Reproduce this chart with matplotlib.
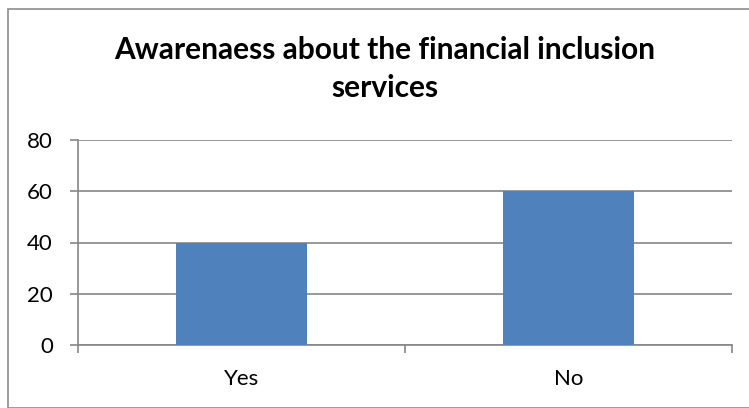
import matplotlib.pyplot as plt
from matplotlib.patches import Rectangle

categories = ["Yes", "No"]
values = [40, 60]
yticks = [0, 20, 40, 60, 80]

plt.rcParams['font.family'] = ['Lato', 'DejaVu Sans']

W, H = 749, 408
fig = plt.figure(figsize=(W / 100, H / 100), dpi=100)

# chart area outline (right and bottom edges fall outside the image)
fig.patches.append(Rectangle((8 / W, 0), 1.0, (H - 9) / H, transform=fig.transFigure,
                             fill=False, edgecolor='#8c8c8c', linewidth=1.2))

ax = fig.add_axes([78 / W, (H - 345) / H, (732 - 78) / W, (345 - 140) / H])

x = range(len(categories))
ax.bar(x, values, width=0.4, color='#4F81BD', zorder=3)

ax.set_xlim(-0.5, len(categories) - 0.5)
ax.set_ylim(0, 80)
ax.set_yticks(yticks)
ax.set_xticks(list(x))
ax.set_xticklabels(categories, fontsize=16)
ax.set_xticks([-0.5, 0.5, 1.5], minor=True)
ax.tick_params(axis='x', which='major', length=0, pad=17)
ax.tick_params(axis='x', which='minor', length=6, width=1.2, color='#868686', direction='out')
ax.tick_params(axis='y', length=6, width=1.2, color='#868686', direction='out', pad=12, labelsize=16)

ax.yaxis.grid(True, color='#868686', linewidth=1.2)
ax.set_axisbelow(True)
for side in ['top', 'right']:
    ax.spines[side].set_visible(False)
for side in ['left', 'bottom']:
    ax.spines[side].set_color('#868686')
    ax.spines[side].set_linewidth(1.2)

fig.text(385 / W, 1 - 50 / H, "Awarenaess about the financial inclusion",
         ha='center', va='center', fontsize=21.5, fontweight='bold')
fig.text(385 / W, 1 - 88 / H, "services",
         ha='center', va='center', fontsize=21.5, fontweight='bold')

fig.savefig("out.png", dpi=100)
